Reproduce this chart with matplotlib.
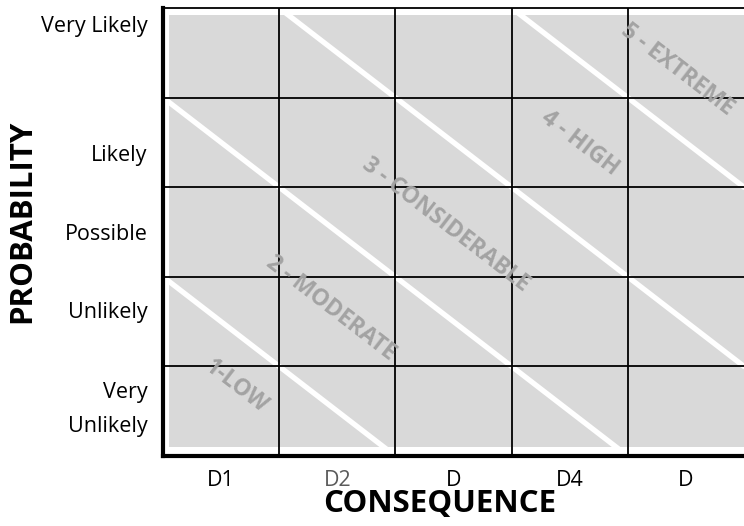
import math

import matplotlib
matplotlib.use("Agg")
import matplotlib.pyplot as plt
import numpy as np

# chart values
consequence = ["D1", "D2", "D", "D4", "D"]
probability = ["Very\nUnlikely", "Unlikely", "Possible", "Likely", "Very Likely"]
risk_levels = ["1-LOW", "2 - MODERATE", "3 - CONSIDERABLE", "4 - HIGH", "5 - EXTREME"]
band_edges = [2, 4, 6, 8]  # white stripes along x + y = const

# where the words sit (data units, columns/rows)
risk_x = [0.63, 1.44, 2.43, 3.59, 4.43]
risk_y = [0.78, 1.65, 2.58, 3.49, 4.31]
prob_ticks = [0.62, 1.63, 2.5, 3.38, 4.82]

FONT = "Open Sans"
plt.rcParams["font.family"] = [FONT, "DejaVu Sans"]

fig = plt.figure(figsize=(7.44, 5.26), dpi=100)
ax = fig.add_axes([163 / 744, 70 / 526, 1 - 163 / 744, 448 / 526])
n_cols = len(consequence)
n_rows = len(probability)
ax.set_xlim(0, n_cols)
ax.set_ylim(0, n_rows)

# grey field, slightly inset from the frame
ax.add_patch(plt.Rectangle((0.05, 0.1), n_cols - 0.05, n_rows - 0.18,
                           facecolor="#d9d9d9", edgecolor="none", zorder=1))

# white diagonal stripes
for s in band_edges:
    xs = np.array([s - n_rows, s])
    ax.plot(xs, s - xs, color="white", lw=3.8, solid_capstyle="butt", zorder=2)

# grid
for c in range(1, n_cols):
    ax.axvline(c, color="black", lw=1.3, zorder=3)
for r in range(1, n_rows):
    ax.axhline(r, color="black", lw=1.3, zorder=3)
ax.axhline(n_rows, color="black", lw=1.3, zorder=3, clip_on=False)

# risk level labels, rotated along the stripes
bbox = ax.get_position()
w_px = bbox.width * 744 / n_cols
h_px = bbox.height * 526 / n_rows
angle = -math.degrees(math.atan2(h_px, w_px))
for lab, x, y in zip(risk_levels, risk_x, risk_y):
    ax.text(x, y, lab, rotation=angle, rotation_mode="anchor", ha="center", va="center",
            fontsize=16.5, fontweight="bold", color="#a3a3a3", zorder=4)

for side in ["top", "right"]:
    ax.spines[side].set_visible(False)
for side in ["left", "bottom"]:
    ax.spines[side].set_linewidth(3)
    ax.spines[side].set_zorder(5)

ax.set_xticks(np.arange(n_cols) + 0.5)
ax.set_xticklabels(consequence, fontsize=15.5)
ax.get_xticklabels()[1].set_color("#5a5a5a")
ax.set_yticks(prob_ticks)
ax.set_yticklabels(probability, fontsize=15.5, multialignment="right", linespacing=1.8)
ax.tick_params(length=0)
ax.tick_params(axis="x", pad=10)
ax.tick_params(axis="y", pad=11)

fig.text(440 / 744, 1 - 504 / 526, "CONSEQUENCE", ha="center", va="center",
         fontsize=22.5, fontweight="bold")
fig.text(22 / 744, 1 - 221 / 526, "PROBABILITY", ha="center", va="center",
         rotation=90, fontsize=22.5, fontweight="bold")

fig.savefig("out.png", dpi=100)
